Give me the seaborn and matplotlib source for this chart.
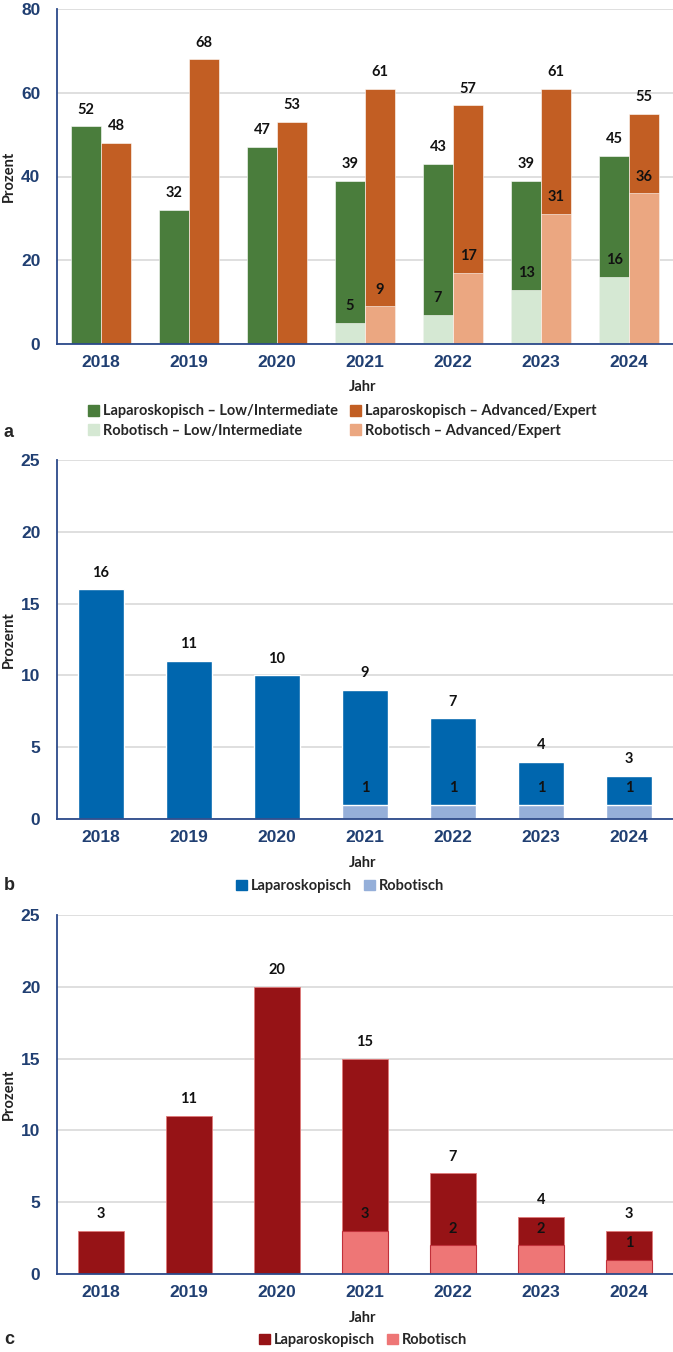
import pandas as pd
import matplotlib
matplotlib.use('Agg')
import matplotlib.pyplot as plt
import seaborn as sns
from matplotlib.patches import Patch

# ----------------------- #
# Data
# ----------------------- #
years = ['2018', '2019', '2020', '2021', '2022', '2023', '2024']

# Panel a
lap_low = [52, 32, 47, 39, 43, 39, 45]
lap_adv = [48, 68, 53, 61, 57, 61, 55]
rob_low = [0, 0, 0, 5, 7, 13, 16]
rob_adv = [0, 0, 0, 9, 17, 31, 36]
labels_a = ['Laparoskopisch – Low/Intermediate', 'Laparoskopisch – Advanced/Expert',
            'Robotisch – Low/Intermediate', 'Robotisch – Advanced/Expert']

# Panel b
b_lap = [16, 11, 10, 9, 7, 4, 3]
b_rob = [0, 0, 0, 1, 1, 1, 1]

# Panel c
c_lap = [3, 11, 20, 15, 7, 4, 3]
c_rob = [0, 0, 0, 3, 2, 2, 1]

# colours
green, orange = '#4a7d3c', '#c25e23'
lgreen, lorange = '#d5e8d3', '#eba781'
blue, lblue = '#0066ae', '#95afd9'
dred, pink = '#961316', '#ee7676'
axis_blue = '#2c4a8a'
tick_blue = '#203f72'

sns.set_theme(style='white')
plt.rcParams['font.family'] = ['Lato', 'DejaVu Sans']

W, H = 673, 1352
fig = plt.figure(figsize=(W / 100, H / 100), dpi=100)


def fx(px):
    return px / W


def fy(px):
    return 1 - px / H


def add_axes(top, bottom, left=57, right=673):
    return fig.add_axes([fx(left), fy(bottom), fx(right - left), (bottom - top) / H])


def style_axes(ax, ymax, step, ylabel):
    ax.set_ylim(0, ymax)
    ax.set_yticks(range(0, ymax + 1, step))
    ax.set_xlim(-0.5, 6.5)
    ax.yaxis.grid(True, color='#d9d9d9', lw=1.2)
    ax.set_axisbelow(True)
    for s in ['top', 'right']:
        ax.spines[s].set_visible(False)
    for s in ['left', 'bottom']:
        ax.spines[s].set_color(axis_blue)
        ax.spines[s].set_linewidth(1.3)
    ax.tick_params(axis='y', length=4, width=1.2, color=axis_blue, pad=8)
    ax.tick_params(axis='x', length=0, pad=8)
    for t in ax.get_xticklabels() + ax.get_yticklabels():
        t.set_fontfamily('Liberation Sans')
        t.set_fontweight('bold')
        t.set_fontsize(12.5)
        t.set_color(tick_blue)
    ax.set_xlabel('')
    ax.set_ylabel(ylabel, fontsize=10.5, fontweight='bold', color='#222222')
    ax.yaxis.set_label_coords(-0.066, 0.5)


def label_bars(ax, container, values):
    ax.bar_label(container, labels=[str(v) if v > 0 else '' for v in values],
                 padding=7, fontsize=10.5, fontweight='bold', color='#111111')


leg_kw = dict(loc='center', frameon=False, handlelength=0.75, handleheight=0.75,
              handletextpad=0.3, columnspacing=0.8,
              prop={'family': 'Lato', 'weight': 'bold', 'size': 10.5})

# ----------------------- #
# Panel a
# ----------------------- #
ax_a = add_axes(9, 344)
df_lap = pd.DataFrame({'Jahr': years * 2, 'Gruppe': ['low'] * 7 + ['adv'] * 7,
                       'Wert': lap_low + lap_adv})
df_rob = pd.DataFrame({'Jahr': years * 2, 'Gruppe': ['low'] * 7 + ['adv'] * 7,
                       'Wert': rob_low + rob_adv})
sns.barplot(data=df_lap, x='Jahr', y='Wert', hue='Gruppe', hue_order=['low', 'adv'],
            order=years, palette=[green, orange], width=0.68, saturation=1,
            errorbar=None, legend=False, ax=ax_a, edgecolor='white', linewidth=0.4)
sns.barplot(data=df_rob, x='Jahr', y='Wert', hue='Gruppe', hue_order=['low', 'adv'],
            order=years, palette=[lgreen, lorange], width=0.68, saturation=1,
            errorbar=None, legend=False, ax=ax_a, edgecolor='white', linewidth=0.4)
label_bars(ax_a, ax_a.containers[0], lap_low)
label_bars(ax_a, ax_a.containers[1], lap_adv)
label_bars(ax_a, ax_a.containers[2], rob_low)
label_bars(ax_a, ax_a.containers[3], rob_adv)
style_axes(ax_a, 80, 20, 'Prozent')

fig.text(fx(363), fy(387), 'Jahr', ha='center', va='center', fontsize=10.5, fontweight='bold', color='#222222')
handles_a = [Patch(color=green), Patch(color=lgreen), Patch(color=orange), Patch(color=lorange)]
fig.legend(handles_a, [labels_a[0], labels_a[2], labels_a[1], labels_a[3]],
           bbox_to_anchor=(fx(342), fy(421)), ncol=2, labelspacing=0.35, **leg_kw)
fig.text(fx(4), fy(432), 'a', ha='left', va='center', fontsize=13, fontweight='bold',
         fontfamily='Liberation Sans')

# ----------------------- #
# Panel b
# ----------------------- #
ax_b = add_axes(460, 819)
sns.barplot(x=years, y=b_lap, order=years, color=blue, width=0.53, saturation=1,
            errorbar=None, ax=ax_b)
sns.barplot(x=years, y=b_rob, order=years, color=lblue, width=0.53, saturation=1,
            errorbar=None, ax=ax_b)
label_bars(ax_b, ax_b.containers[0], b_lap)
label_bars(ax_b, ax_b.containers[1], b_rob)
style_axes(ax_b, 25, 5, 'Prozernt')

fig.text(fx(363), fy(863), 'Jahr', ha='center', va='center', fontsize=10.5, fontweight='bold', color='#222222')
fig.legend([Patch(color=blue), Patch(color=lblue)], ['Laparoskopisch', 'Robotisch'],
           bbox_to_anchor=(fx(340), fy(886)), ncol=2, **leg_kw)
fig.text(fx(4), fy(886), 'b', ha='left', va='center', fontsize=13, fontweight='bold',
         fontfamily='Liberation Sans')

# ----------------------- #
# Panel c
# ----------------------- #
ax_c = add_axes(915, 1274)
sns.barplot(x=years, y=c_lap, order=years, color=dred, width=0.53, saturation=1,
            errorbar=None, ax=ax_c, edgecolor='#e07a7a', linewidth=0.6)
sns.barplot(x=years, y=c_rob, order=years, color=pink, width=0.53, saturation=1,
            errorbar=None, ax=ax_c, edgecolor='#c0303a', linewidth=0.8)
label_bars(ax_c, ax_c.containers[0], c_lap)
label_bars(ax_c, ax_c.containers[1], c_rob)
style_axes(ax_c, 25, 5, 'Prozent')

fig.text(fx(363), fy(1318), 'Jahr', ha='center', va='center', fontsize=10.5, fontweight='bold', color='#222222')
fig.legend([Patch(color=dred), Patch(color=pink)], ['Laparoskopisch', 'Robotisch'],
           bbox_to_anchor=(fx(363), fy(1340)), ncol=2, **leg_kw)
fig.text(fx(4), fy(1340), 'c', ha='left', va='center', fontsize=13, fontweight='bold',
         fontfamily='Liberation Sans')

fig.savefig('out.png', dpi=100)
